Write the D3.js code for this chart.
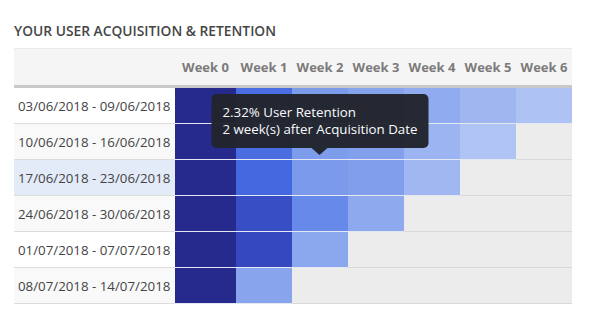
<!DOCTYPE html>
<html>
<head>
<meta charset="utf-8">
<script src="https://cdn.jsdelivr.net/npm/d3@7"></script>
<style>
  html, body { margin: 0; padding: 0; background: #fff; }
  svg { display: block; }
</style>
</head>
<body>
<svg id="chart" width="594" height="331"></svg>
<script>
// ---- data ----
const cohorts = [
  "03/06/2018 - 09/06/2018",
  "10/06/2018 - 16/06/2018",
  "17/06/2018 - 23/06/2018",
  "24/06/2018 - 30/06/2018",
  "01/07/2018 - 07/07/2018",
  "08/07/2018 - 14/07/2018"
];
const weeks = ["Week 0", "Week 1", "Week 2", "Week 3", "Week 4", "Week 5", "Week 6"];
// retention (%) per cohort, by week since acquisition (estimated from colours)
const retention0 = [100, 3.9, 2.30, 2.00, 1.72, 1.29, 0.86];
const retention1 = [100, 3.9, 2.23, 2.12, 1.37, 0.80];
const retention2 = [100, 4.1, 2.32, 2.18, 1.26];
const retention3 = [100, 5.38, 2.9, 1.77];
const retention4 = [100, 5.7, 1.86];
const retention5 = [100, 1.95];
const retention = [retention0, retention1, retention2, retention3, retention4, retention5];
const title = "YOUR USER ACQUISITION & RETENTION";
const hovered = { row: 2, week: 2 };

// ---- layout ----
const svg = d3.select("#chart");
const tableLeft = 14, tableRight = 572, labelRight = 175;
const headerTop = 48, headerBottom = 85, bodyTop = 88;

const x = d3.scaleLinear().domain([0, 1, weeks.length]).range([labelRight, 236, tableRight]);
const y = d3.scaleBand().domain(cohorts).range([bodyTop, bodyTop + 36 * cohorts.length]);

const color = d3.scaleLinear()
  .domain([0.8, 2.32, 2.9, 4.1, 5.7, 100])
  .range(["#b0c4f4", "#7b9aeb", "#6789ea", "#4468df", "#3548bf", "#252a8c"])
  .clamp(true);

const font = "'Open Sans', 'Noto Sans', sans-serif";

// title
svg.append("text")
  .attr("x", tableLeft).attr("y", 36)
  .attr("font-family", font).attr("font-weight", 600).attr("font-size", 15)
  .attr("fill", "#454545")
  .attr("textLength", 262).attr("lengthAdjust", "spacingAndGlyphs")
  .text(title);

// header
svg.append("rect")
  .attr("x", tableLeft).attr("y", headerTop)
  .attr("width", tableRight - tableLeft).attr("height", headerBottom - headerTop)
  .attr("fill", "#f5f5f5");
svg.append("rect")
  .attr("x", tableLeft).attr("y", headerTop)
  .attr("width", tableRight - tableLeft).attr("height", 1)
  .attr("fill", "#e9e9e9");
svg.append("rect")
  .attr("x", tableLeft).attr("y", headerBottom)
  .attr("width", tableRight - tableLeft).attr("height", bodyTop - headerBottom)
  .attr("fill", "#c9c9c9");

svg.selectAll("text.week").data(weeks).join("text")
  .attr("class", "week")
  .attr("x", (d, i) => (x(i) + x(i + 1)) / 2)
  .attr("y", 72)
  .attr("text-anchor", "middle")
  .attr("font-family", font).attr("font-weight", 700).attr("font-size", 13)
  .attr("fill", "#7b7b7b")
  .text(d => d);

// rows
const rowBg = ["#ffffff", "#f9f9f9", "#e3ebf8", "#f9f9f9", "#ffffff", "#f9f9f9"];
const rows = svg.selectAll("g.row").data(cohorts).join("g").attr("class", "row");

rows.append("rect")
  .attr("x", tableLeft).attr("y", d => y(d))
  .attr("width", labelRight - tableLeft).attr("height", y.bandwidth() - 1)
  .attr("fill", (d, i) => rowBg[i]);
rows.append("rect")
  .attr("x", tableLeft).attr("y", d => y(d) + y.bandwidth() - 1)
  .attr("width", labelRight - tableLeft).attr("height", 1)
  .attr("fill", "#dddddd");
rows.append("text")
  .attr("x", 18).attr("y", d => y(d) + y.bandwidth() / 2 + 4.5)
  .attr("font-family", font).attr("font-size", 13.3)
  .attr("fill", "#444")
  .text(d => d);

// cells
rows.each(function (c, ri) {
  const g = d3.select(this);
  weeks.forEach((w, wi) => {
    const v = retention[ri][wi];
    const has = v !== undefined;
    g.append("rect")
      .attr("x", x(wi)).attr("y", y(c))
      .attr("width", x(wi + 1) - x(wi)).attr("height", y.bandwidth() - 1)
      .attr("fill", has ? color(v) : "#ececec");
    g.append("rect")
      .attr("x", x(wi)).attr("y", y(c) + y.bandwidth() - 1)
      .attr("width", x(wi + 1) - x(wi)).attr("height", 1)
      .attr("fill", has ? "#e4e8f3" : "#d9d9d9");
  });
});

// tooltip
const hv = retention[hovered.row][hovered.week];
const cx = (x(hovered.week) + x(hovered.week + 1)) / 2 - 0.5;
const tipBottom = y(cohorts[hovered.row]) - 12;
const tipW = 217, tipH = 54;
const tipLeft = cx - 108;
const tip = svg.append("g").attr("opacity", 0.97);
tip.append("rect")
  .attr("x", tipLeft).attr("y", tipBottom - tipH)
  .attr("width", tipW).attr("height", tipH)
  .attr("rx", 5).attr("fill", "#22252d");
tip.append("path")
  .attr("d", `M${cx - 8},${tipBottom} L${cx + 8},${tipBottom} L${cx},${tipBottom + 7} Z`)
  .attr("fill", "#22252d");
tip.append("text")
  .attr("x", tipLeft + 11).attr("y", tipBottom - tipH + 23)
  .attr("font-family", font).attr("font-size", 13.3).attr("fill", "#fff")
  .text(`${hv.toFixed(2)}% User Retention`);
tip.append("text")
  .attr("x", tipLeft + 11).attr("y", tipBottom - tipH + 40)
  .attr("font-family", font).attr("font-size", 13.3).attr("fill", "#fff")
  .text(`${hovered.week} week(s) after Acquisition Date`);
</script>
</body>
</html>
